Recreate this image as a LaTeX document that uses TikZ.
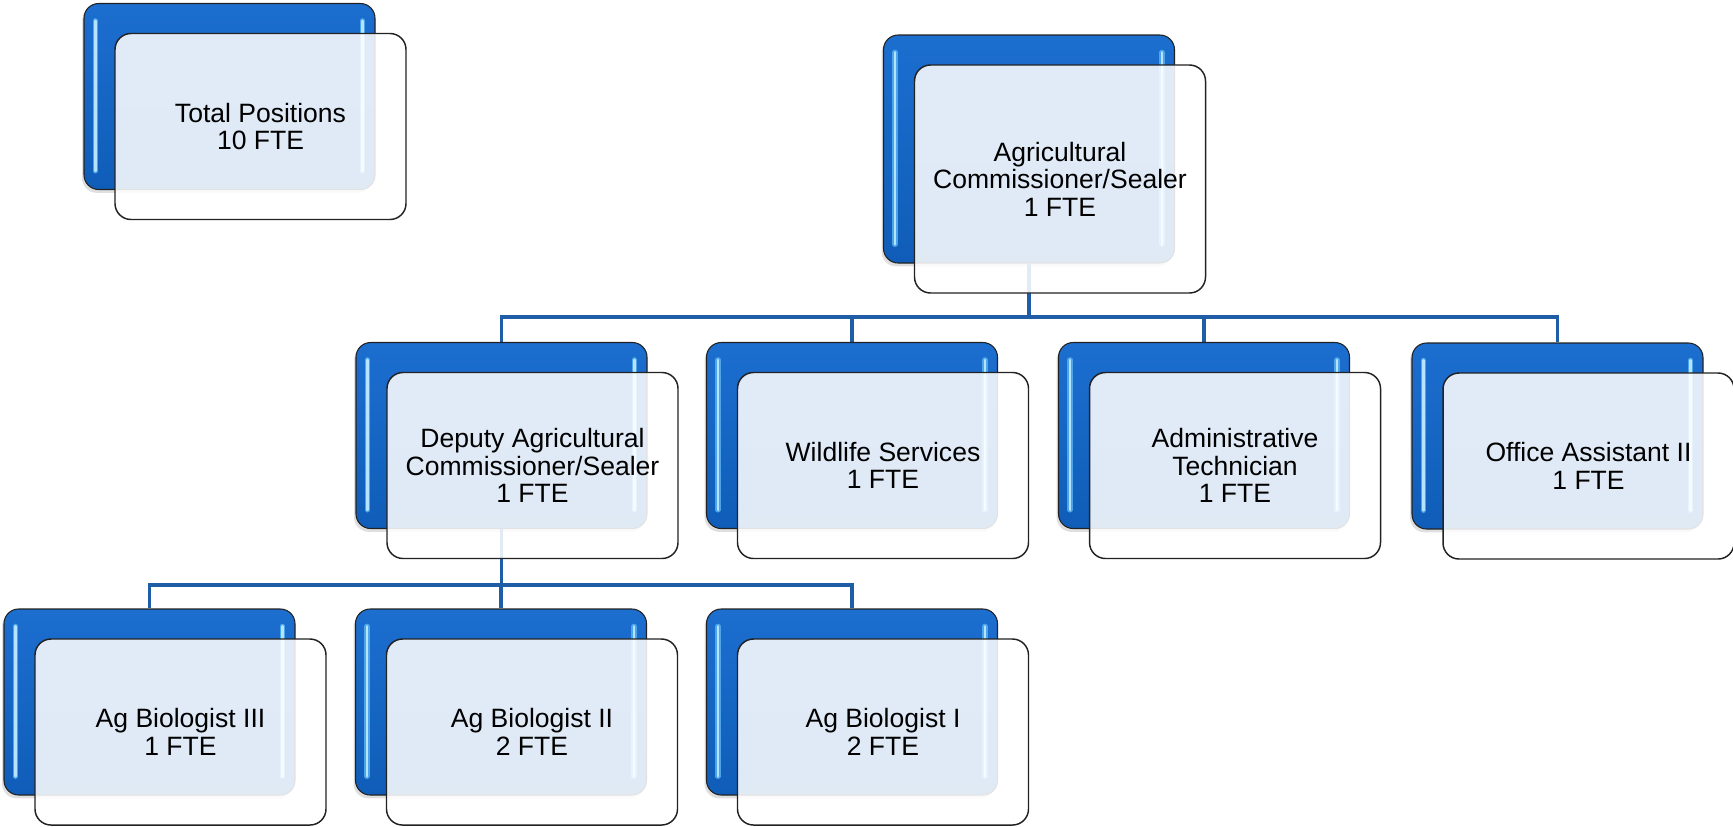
\documentclass[tikz,border=0pt]{standalone}
\usepackage{fontspec}
\setmainfont{Liberation Sans}
\usetikzlibrary{shadows,backgrounds}
\definecolor{boxtop}{HTML}{1C6ECF}
\definecolor{boxbot}{HTML}{0F5DB8}
\definecolor{hlcol}{HTML}{B4E4FF}
\definecolor{glowcol}{HTML}{5AB4F5}
\definecolor{connblue}{HTML}{1F5DA6}
\definecolor{edgecol}{HTML}{222222}
\tikzset{
  hl/.style={draw=hlcol, line width=2pt, line cap=round},
  glow/.style={draw=glowcol, line width=4pt, line cap=round, draw opacity=0.8},
  bluebox/.style={draw=edgecol, line width=0.8pt, rounded corners=11pt,
    top color=boxtop, bottom color=boxbot,
    minimum width=218.25pt, minimum height=139.5pt, inner sep=0pt,
    drop shadow={shadow xshift=-1.5pt, shadow yshift=-2.5pt, opacity=0.25},
    path picture={
      \draw[glow] ([xshift=8.5pt,yshift=-13pt]path picture bounding box.north west) -- ([xshift=8.5pt,yshift=14pt]path picture bounding box.south west);
      \draw[glow] ([xshift=-9.5pt,yshift=-13pt]path picture bounding box.north east) -- ([xshift=-9.5pt,yshift=14pt]path picture bounding box.south east);
      \draw[hl] ([xshift=8.5pt,yshift=-13pt]path picture bounding box.north west) -- ([xshift=8.5pt,yshift=14pt]path picture bounding box.south west);
      \draw[hl] ([xshift=-9.5pt,yshift=-13pt]path picture bounding box.north east) -- ([xshift=-9.5pt,yshift=14pt]path picture bounding box.south east);
    }},
  whitebox/.style={draw=edgecol, line width=1.1pt, rounded corners=12pt,
    fill=white, fill opacity=0.87, text opacity=1, draw opacity=1,
    minimum width=218.25pt, minimum height=139.5pt, inner sep=0pt,
    align=center, font=\fontsize{19.9}{20.6}\selectfont},
  conn/.style={draw=connblue, line width=2.3pt},
}
\begin{document}
\begin{tikzpicture}[x=0.75pt,y=-0.75pt]
\useasboundingbox (0,0) rectangle (1733,826);
% blue back boxes
\node[bluebox] (total) at (229.5,96.5) {};
\node[bluebox, minimum height=171pt] (agri) at (1029,149) {};
\node[bluebox] (deputy) at (501.5,435.5) {};
\node[bluebox] (wild) at (852,435.5) {};
\node[bluebox] (admin) at (1204,435.5) {};
\node[bluebox] (office) at (1557.5,436) {};
\node[bluebox] (bio3) at (149.5,702) {};
\node[bluebox] (bio2) at (501,702) {};
\node[bluebox] (bio1) at (852,702) {};
% white front boxes
\node[whitebox] (totalW) at ([shift={(31,30)}]total.center) {Total Positions\\10 FTE};
\node[whitebox, minimum height=171pt] (agriW) at ([shift={(31,30)}]agri.center) {Agricultural\\Commissioner/Sealer\\1 FTE};
\node[whitebox] (deputyW) at ([shift={(31,30)}]deputy.center) {Deputy Agricultural\\Commissioner/Sealer\\1 FTE};
\node[whitebox] (wildW) at ([shift={(31,30)}]wild.center) {Wildlife Services\\1 FTE};
\node[whitebox] (adminW) at ([shift={(31,30)}]admin.center) {Administrative\\Technician\\1 FTE};
\node[whitebox] (officeW) at ([shift={(31,30)}]office.center) {Office Assistant II\\1 FTE};
\node[whitebox] (bio3W) at ([shift={(31,30)}]bio3.center) {Ag Biologist III\\1 FTE};
\node[whitebox] (bio2W) at ([shift={(31,30)}]bio2.center) {Ag Biologist II\\2 FTE};
\node[whitebox] (bio1W) at ([shift={(31,30)}]bio1.center) {Ag Biologist I\\2 FTE};
% connectors
\coordinate (bar1) at (1029,317);
\coordinate (bar2) at (501.5,585);
\begin{scope}[on background layer]
\draw[conn] (agri.south) -- (bar1);
\draw[conn] (deputy.north) |- (bar1);
\draw[conn] (wild.north) |- (bar1);
\draw[conn] (admin.north) |- (bar1);
\draw[conn] (office.north) |- (bar1);
\draw[conn] (deputy.south) -- (bar2);
\draw[conn] (bio3.north) |- (bar2);
\draw[conn] (bio2.north) |- (bar2);
\draw[conn] (bio1.north) |- (bar2);
\end{scope}
\end{tikzpicture}
\end{document}
